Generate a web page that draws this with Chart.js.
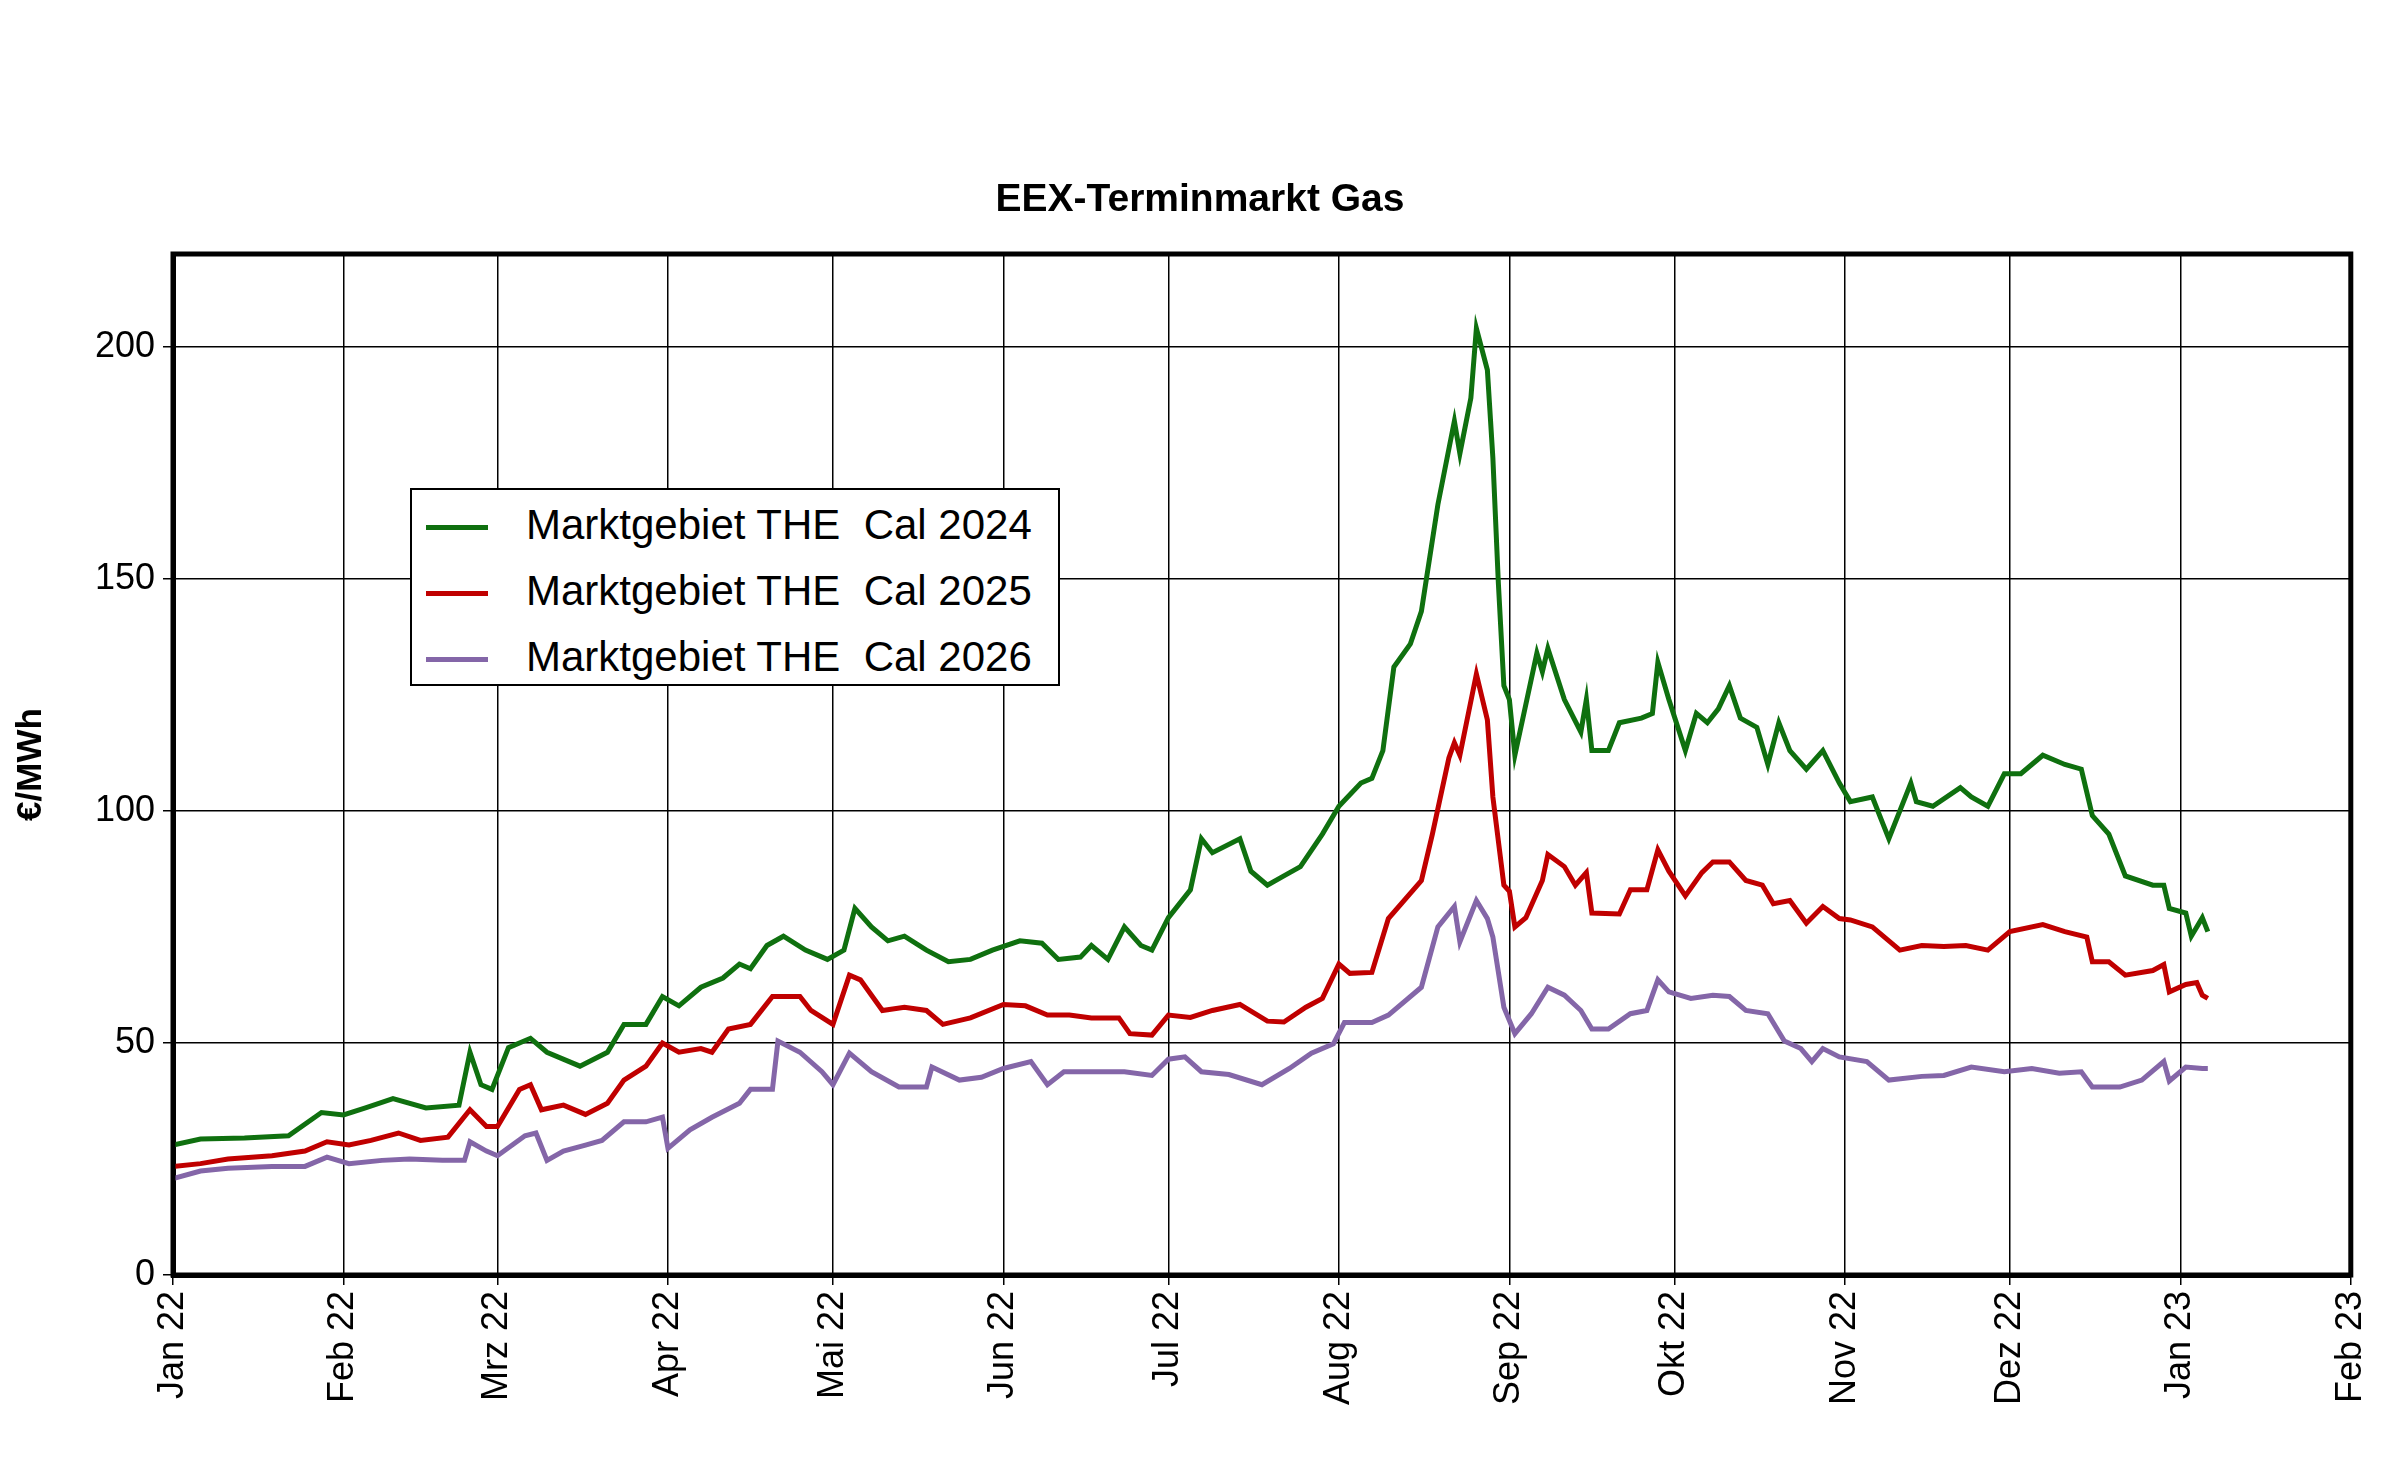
<!DOCTYPE html>
<html>
<head>
<meta charset="utf-8">
<script src="https://cdn.jsdelivr.net/npm/chart.js@4"></script>
<style>
  body { margin: 0; background: #fff; font-family: Arial, "Liberation Sans", sans-serif; }
  #wrap { position: relative; width: 2400px; height: 1463px; }
  #title { position: absolute; left: 0; width: 2400px; top: 176px; text-align: center; font-weight: bold; font-size: 39px; }
  #legend { position: absolute; left: 410px; top: 488px; width: 650px; height: 198px; border: 2px solid #000; background: #fff; font-size: 42px; box-sizing: border-box; padding-top: 2px; }
  #legend div { height: 66px; line-height: 66px; white-space: pre; }
  #legend span { display: inline-block; width: 62px; height: 5px; vertical-align: middle; margin: 0 38px 0 14px; }
</style>
</head>
<body>
<div id="wrap">
  <canvas id="chart" width="2400" height="1463"></canvas>
  <div id="title">EEX-Terminmarkt Gas</div>
  <div id="legend"></div>
</div>
<script>
// x = days since 1 Jan 2022
const monthDays = [0, 31, 59, 90, 120, 151, 181, 212, 243, 273, 304, 334, 365, 396];
const monthLabels = ["Jan 22", "Feb 22", "Mrz 22", "Apr 22", "Mai 22", "Jun 22", "Jul 22", "Aug 22", "Sep 22", "Okt 22", "Nov 22", "Dez 22", "Jan 23", "Feb 23"];
const seriesNames = ["Marktgebiet THE  Cal 2024", "Marktgebiet THE  Cal 2025", "Marktgebiet THE  Cal 2026"];
const seriesColors = ["#0f700f", "#c00000", "#8466a8"];

const days2024 = [0,5,13,21,27,31,35,40,46,52,54,56,58,61,65,68,74,79,82,86,89,92,96,100,103,105,108,111,115,119,122,124,127,130,133,137,141,145,149,154,158,161,165,167,170,173,176,178,181,185,187,189,194,196,199,202,205,209,212,216,218,220,222,225,227,230,233,234,236,237,239,240,241,242,243,244,246,248,249,250,253,256,257,258,261,263,267,269,270,272,275,277,279,281,283,285,288,290,292,294,297,300,303,305,309,311,312,316,317,320,325,327,330,333,336,340,344,347,349,352,355,360,362,363,366,367,369,370];
const cal2024 = [28,29.3,29.5,30,35,34.5,36,38,36,36.6,48,41,40,49,51,48,45,48,54,54,60,58,62,64,67,66,71,73,70,68,70,79,75,72,73,70,67.5,68,70,72,71.5,68,68.5,71,68,75,71,70,77,83,94,91,94,87,84,86,88,95,101,106,107,113,131,136,143,166,184,177,189,204,195,176,149,127,124,112,123,134,130,135,124,117,124,113,113,119,120,121,132,124,113,121,119,122,127,120,118,110,119,113,109,113,106,102,103,97,94,106,102,101,105,103,101,108,108,112,110,109,99,95,86,84,84,79,78,73,77,74];

const days2025 = [0,5,10,18,24,28,32,36,41,45,50,54,57,59,63,65,67,71,75,79,82,86,89,92,96,98,101,105,109,114,116,120,123,125,129,133,137,140,145,151,155,159,163,167,172,174,178,181,185,189,194,199,202,206,209,212,214,218,221,227,229,232,233,234,237,239,240,242,243,244,246,249,250,253,255,257,258,263,265,268,270,272,275,278,280,283,286,289,291,294,297,300,303,305,309,314,318,322,326,330,334,340,344,348,349,352,355,360,362,363,366,368,369,370];
const cal2025 = [23.4,24,25,25.7,26.7,28.7,28,29,30.6,29,29.7,35.6,32,32,40,41,35.6,36.6,34.6,37,42,45,50,48,48.8,48,53,54,60,60,57,54,64.6,63.6,57,57.7,57,54,55.4,58.3,58,56,56,55.4,55.4,52,51.7,56,55.5,57,58.3,54.7,54.5,57.7,59.6,67,65,65.2,76.8,85,95,111.4,114.7,112,129.5,119.6,103,84,82.7,75,77,85,90.6,88,84,86.7,78,77.8,83,83,91.6,87,81.7,86.7,89,89,85,84,80,80.7,75.8,79.4,76.8,76.5,75,70,71,70.8,71,70,74,75.5,74,72.8,67.5,67.5,64.6,65.6,66.9,61,62.6,63,60.3,59.6];

const days2026 = [0,5,10,18,24,28,32,38,43,49,53,54,57,59,64,66,68,71,75,78,82,86,89,90,94,98,103,105,109,110,114,118,120,123,127,132,137,138,143,147,151,156,159,162,167,173,178,181,184,187,192,198,203,207,211,213,218,221,227,230,233,234,237,239,240,242,244,247,250,253,256,258,261,265,268,270,272,276,280,283,286,290,293,296,298,300,303,308,312,318,322,327,333,338,343,347,349,354,358,362,363,366,369,370];
const cal2026 = [20.8,22.4,23,23.4,23.4,25.4,24,24.7,25,24.7,24.7,28.7,26.7,25.7,30,30.6,24.7,26.7,28,29,33,33,34,27.3,31.3,34,37,40,40,50.4,48,43.8,41,47.8,43.8,40.5,40.5,44.8,42,42.6,44.5,46,41,43.8,43.8,43.8,43,46.5,47,43.8,43.2,41,44.5,47.8,49.8,54.4,54.4,56,62,75,79.4,71.8,80.7,76.8,72.8,57.7,52,56.3,62,60.3,57,53,53,56.3,57,63.6,61,59.6,60.3,60,57,56.3,50.4,48.8,46,48.8,47,46,42,42.8,43,44.8,43.8,44.5,43.5,43.8,40.5,40.5,42,46,41.8,44.8,44.5,44.5];

function pts(days, vals) { return days.map((d, i) => ({ x: d, y: vals[i] })); }
const seriesData = [pts(days2024, cal2024), pts(days2025, cal2025), pts(days2026, cal2026)];

const legend = document.getElementById('legend');
seriesNames.forEach((n, i) => {
  const row = document.createElement('div');
  const sw = document.createElement('span');
  sw.style.background = seriesColors[i];
  row.appendChild(sw);
  row.appendChild(document.createTextNode(n));
  legend.appendChild(row);
});

const frame = {
  id: 'frame',
  afterDraw(chart) {
    const a = chart.chartArea, ctx = chart.ctx;
    ctx.save();
    ctx.lineWidth = 5;
    ctx.strokeStyle = '#000';
    ctx.strokeRect(a.left, a.top, a.right - a.left, a.bottom - a.top);
    ctx.restore();
  }
};

Chart.defaults.font.family = 'Arial, "Liberation Sans", sans-serif';
Chart.defaults.color = '#000';

new Chart('chart', {
  type: 'line',
  data: {
    datasets: seriesData.map((d, i) => ({
      label: seriesNames[i],
      data: d,
      borderColor: seriesColors[i],
      borderWidth: 5,
      pointRadius: 0,
      tension: 0
    }))
  },
  options: {
    responsive: false,
    animation: false,
    layout: { padding: { top: 254, right: 6 } },
    plugins: { legend: { display: false }, tooltip: { enabled: false } },
    scales: {
      x: {
        type: 'linear', min: 0, max: 396,
        afterBuildTicks: s => { s.ticks = monthDays.map(v => ({ value: v })); },
        afterFit: s => { s.height = 188; },
        ticks: {
          autoSkip: false, minRotation: 90, maxRotation: 90, padding: 6,
          font: { size: 36 },
          callback: v => monthLabels[monthDays.indexOf(v)]
        },
        grid: { color: '#000', lineWidth: 1.5, tickLength: 10 },
        border: { color: '#000', width: 5 }
      },
      y: {
        min: 0, max: 220,
        afterBuildTicks: s => { s.ticks = [0, 50, 100, 150, 200].map(v => ({ value: v })); },
        afterFit: s => { s.width = 173; },
        ticks: { font: { size: 36 }, padding: 8 },
        grid: { color: '#000', lineWidth: 1.5, tickLength: 10 },
        border: { color: '#000', width: 5 },
        title: { display: true, text: '€/MWh', font: { size: 35, weight: 'bold' }, padding: { top: 10, bottom: 0 } }
      }
    }
  },
  plugins: [frame]
});
</script>
</body>
</html>
